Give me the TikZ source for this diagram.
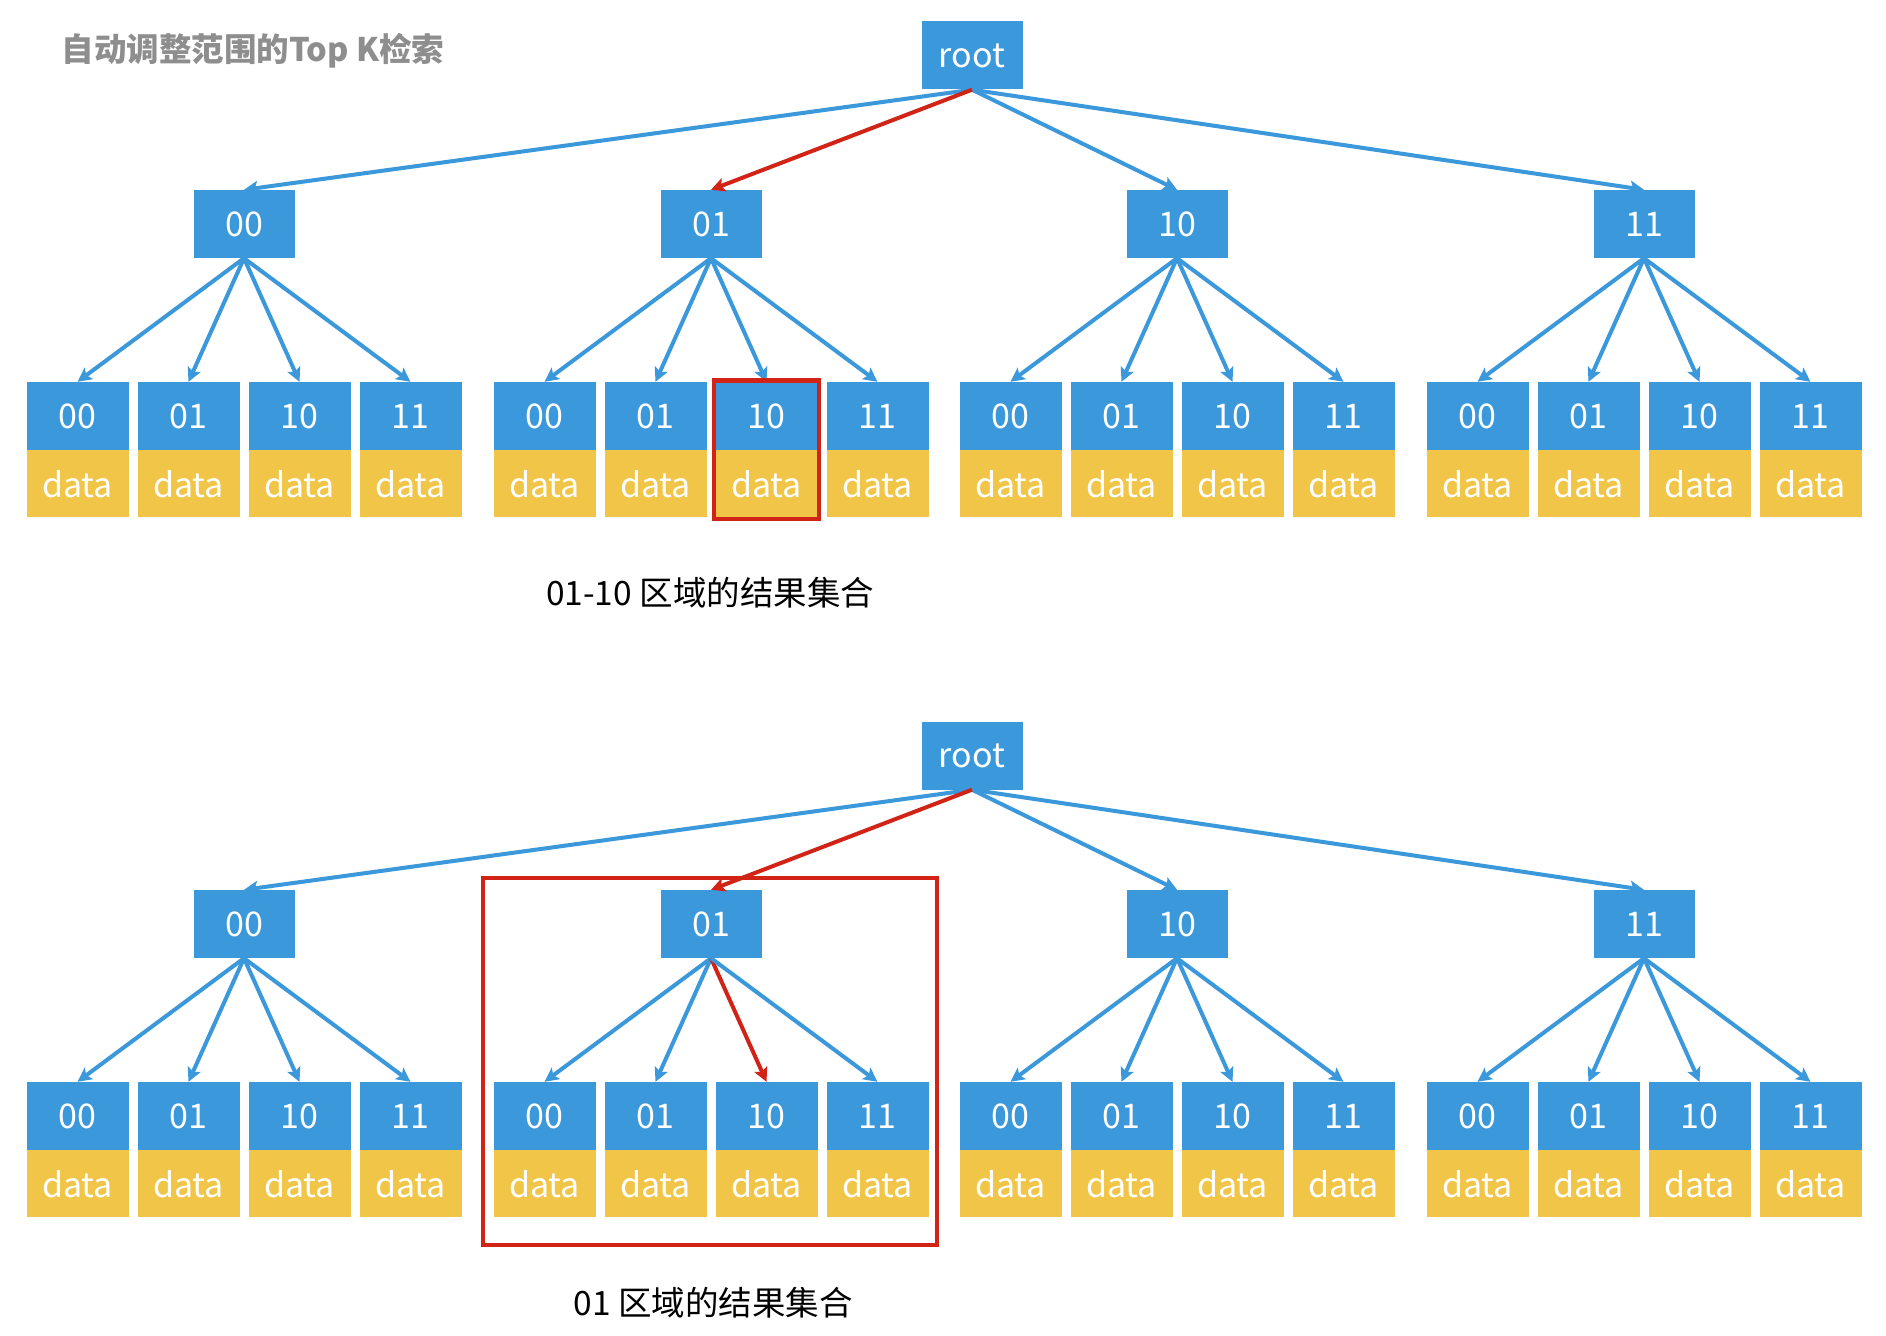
\documentclass[tikz,border=0pt]{standalone}
\usepackage{fontspec}
\setmainfont{Noto Sans CJK SC}
\usetikzlibrary{arrows.meta,positioning}
\definecolor{keyblue}{HTML}{3A98DB}
\definecolor{datayellow}{HTML}{F0C548}
\definecolor{hitred}{HTML}{D22317}
\definecolor{titlegray}{HTML}{8E8E8E}
\begin{document}
\begin{tikzpicture}[x=1pt,y=-1pt]
    \tikzstyle{key}=[fill=keyblue, text=white, inner sep=0pt, minimum width=101pt, minimum height=68pt, font=\fontsize{34}{34}\selectfont]
    \tikzstyle{val}=[key, fill=datayellow, minimum width=102pt, minimum height=67pt]
    \tikzstyle{link}=[line width=4pt, keyblue, -{Stealth[length=14pt,width=14pt,inset=3pt]}]
    \tikzstyle{hit}=[link, hitred]
    \tikzstyle{hitbox}=[draw=hitred, line width=4.5pt]
    \tikzstyle{note}=[font=\fontsize{33.5}{33.5}\selectfont]
    \useasboundingbox (0,0) rectangle (1886,1335);
    \node [note, text=titlegray, font=\fontsize{32.5}{32.5}\selectfont\bfseries, anchor=west] (title) at (58,51) {自动调整范围的Top K检索};
    % two copies of the tree, the second one 700px lower
    \foreach \t/\dy in {a/0, b/700} {
        \begin{scope}[shift={(0,\dy)}]
            \node [key] (\t-root) at (972,55.5) {root};
            \foreach \i/\lab/\cx in {1/00/244, 2/01/711, 3/10/1177, 4/11/1644} {
                \node [key] (\t-\i) at (\cx,224) {\lab};
                \foreach \j/\sub/\dx in {1/00/-166.5, 2/01/-55.5, 3/10/55.5, 4/11/166.5} {
                    \node [key, minimum width=102pt] (\t-\i-\j) at ({\cx+\dx},416) {\sub};
                    \node [val, below=0pt of \t-\i-\j] (\t-\i-\j-d) {data};
                    \def\lc{link}
                    \ifnum\dy=700 \ifnum\i=2 \ifnum\j=3 \def\lc{hit}\fi\fi\fi
                    \draw [\lc] (\t-\i.south) -- (\t-\i-\j.north);
                }
            }
            \foreach \i in {1,3,4}
                \draw [link] (\t-root.south) -- (\t-\i.north);
            \draw [hit] (\t-root.south) -- (\t-2.north);
        \end{scope}
    }
    \draw [hitbox] ([shift={(-1.5,-1.5)}] a-2-3.north west) rectangle ([shift={(1.5,1.5)}] a-2-3-d.south east);
    \draw [hitbox] (483,878) rectangle (937,1245);
    \node [note] (res-a) at (710,593) {01-10 区域的结果集合};
    \node [note] (res-b) at (713,1303) {01 区域的结果集合};
\end{tikzpicture}
\end{document}
